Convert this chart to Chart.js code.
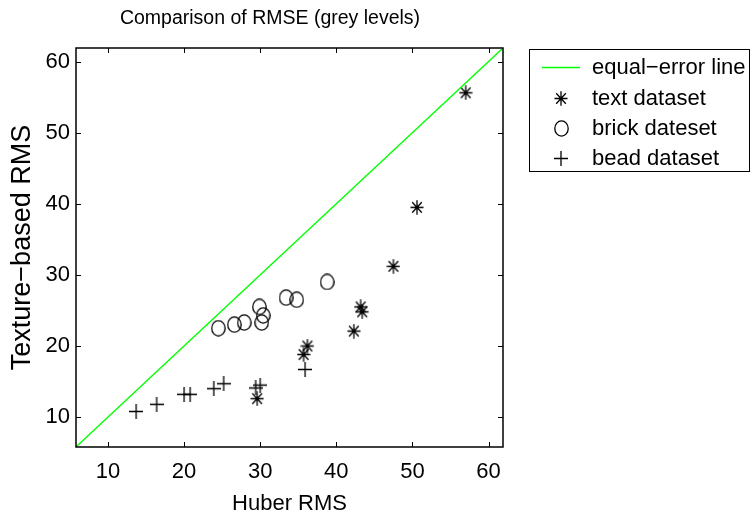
<!DOCTYPE html>
<html><head><meta charset="utf-8">
<script src="https://cdn.jsdelivr.net/npm/chart.js@4/dist/chart.umd.min.js"></script>
<style>html,body{margin:0;padding:0;background:#fff;}#wrap{width:751px;height:517px;}</style>
</head><body><div id="wrap"><canvas id="c" width="751" height="517"></canvas></div>
<script>
// ---- data ----
const chartTitle = 'Comparison of RMSE (grey levels)';
const xTitle = 'Huber RMS';
const yTitle = 'Texture\u2212based RMS';
const axisMin = 5.8;
const axisMax = 61.9;
const tickValues = [10, 20, 30, 40, 50, 60];
const tickLabels = ['10', '20', '30', '40', '50', '60'];
const seriesNames = ['equal\u2212error line', 'text dataset', 'brick dateset', 'bead dataset'];
const lineX = [5.8, 61.9];
const lineY = [5.8, 61.9];
const textX = [57.0, 50.6, 47.5, 43.2, 43.4, 42.3, 36.2, 35.7, 29.6];
const textY = [55.6, 39.5, 31.2, 25.5, 24.8, 22.1, 20.0, 18.8, 12.6];
const brickX = [24.5, 26.6, 27.9, 29.9, 30.4, 30.2, 33.4, 34.8, 38.8];
const brickY = [22.5, 23.0, 23.3, 25.5, 24.3, 23.3, 26.8, 26.5, 29.0];
const beadX = [13.7, 16.4, 20.0, 20.8, 23.9, 25.2, 29.4, 30.0, 35.9];
const beadY = [10.8, 11.8, 13.2, 13.2, 14.0, 14.7, 14.1, 14.5, 16.7];

const FONT = '"Liberation Sans", Arial, Helvetica, sans-serif';
const pts = (xs, ys) => xs.map((x, i) => ({x: x, y: ys[i]}));

function marker(kind) {
  const w = kind === 'circle' ? 15 : 14, h = kind === 'circle' ? 17 : 15;
  const c = document.createElement('canvas');
  c.width = w; c.height = h;
  const g = c.getContext('2d');
  g.strokeStyle = '#000'; g.lineWidth = 1.3;
  const cx = w / 2, cy = h / 2;
  g.beginPath();
  if (kind === 'circle') {
    g.ellipse(cx, cy, cx - 0.8, cy - 0.8, 0, 0, Math.PI * 2);
  } else if (kind === 'plus') {
    g.moveTo(0, cy); g.lineTo(w, cy);
    g.moveTo(cx, 0); g.lineTo(cx, h);
  } else {
    g.moveTo(0.5, cy); g.lineTo(w - 0.5, cy);
    g.moveTo(cx, 0.3); g.lineTo(cx, h - 0.3);
    g.moveTo(cx - 4.8, cy - 5.2); g.lineTo(cx + 4.8, cy + 5.2);
    g.moveTo(cx - 4.8, cy + 5.2); g.lineTo(cx + 4.8, cy - 5.2);
  }
  g.stroke();
  return c;
}
const mStar = marker('star'), mCircle = marker('circle'), mPlus = marker('plus');

const framePlugin = {
  id: 'frame',
  afterDraw(chart) {
    const ctx = chart.ctx, a = chart.chartArea;
    const xs = chart.scales.x, ys = chart.scales.y;
    ctx.save();
    ctx.strokeStyle = '#000';
    ctx.lineWidth = 1.5;
    ctx.strokeRect(a.left, a.top, a.right - a.left, a.bottom - a.top);
    ctx.lineWidth = 1;
    ctx.beginPath();
    const tl = 5;
    tickValues.forEach(v => {
      const px = Math.round(xs.getPixelForValue(v)) + 0.5;
      ctx.moveTo(px, a.bottom); ctx.lineTo(px, a.bottom - tl);
      ctx.moveTo(px, a.top); ctx.lineTo(px, a.top + tl);
      const py = Math.round(ys.getPixelForValue(v)) + 0.5;
      ctx.moveTo(a.left, py); ctx.lineTo(a.left + tl, py);
      ctx.moveTo(a.right, py); ctx.lineTo(a.right - tl, py);
    });
    ctx.stroke();
    // title
    ctx.fillStyle = '#000';
    ctx.font = '19.5px ' + FONT;
    ctx.textAlign = 'center';
    ctx.textBaseline = 'middle';
    ctx.fillText(chartTitle, 270, 19);
    // legend
    const L = 529.5, T = 49.5, R = 749.5, B = 171.5;
    ctx.lineWidth = 1;
    ctx.strokeStyle = '#000';
    ctx.strokeRect(L, T, R - L, B - T);
    const rows = [67, 98, 128, 158];
    ctx.font = '22px ' + FONT;
    ctx.textAlign = 'left';
    rows.forEach((ry, i) => {
      if (i === 0) {
        ctx.strokeStyle = '#00ff00'; ctx.lineWidth = 1.3;
        ctx.beginPath(); ctx.moveTo(542, ry + 0.5); ctx.lineTo(580, ry + 0.5); ctx.stroke();
      } else {
        const m = [null, mStar, mCircle, mPlus][i];
        ctx.drawImage(m, Math.round(561 - m.width / 2), Math.round(ry - m.height / 2));
      }
      ctx.fillStyle = '#000';
      ctx.fillText(seriesNames[i], 592, ry + 1);
    });
    ctx.restore();
  }
};

new Chart(document.getElementById('c'), {
  type: 'scatter',
  data: {
    datasets: [
      {label: seriesNames[0], data: pts(lineX, lineY), showLine: true, borderColor: '#00ff00', borderWidth: 1.3, pointRadius: 0, fill: false},
      {label: seriesNames[1], data: pts(textX, textY), pointStyle: mStar, showLine: false},
      {label: seriesNames[2], data: pts(brickX, brickY), pointStyle: mCircle, showLine: false},
      {label: seriesNames[3], data: pts(beadX, beadY), pointStyle: mPlus, showLine: false}
    ]
  },
  options: {
    responsive: false,
    animation: false,
    events: [],
    layout: {padding: {left: 0, top: 48, right: 248, bottom: 0}},
    plugins: {legend: {display: false}, title: {display: false}, tooltip: {enabled: false}},
    scales: {
      x: {
        type: 'linear', position: 'bottom', min: axisMin, max: axisMax,
        grid: {display: false, drawTicks: false}, border: {display: false},
        afterBuildTicks: s => { s.ticks = tickValues.map(v => ({value: v})); },
        afterFit: s => { s.height = 70; },
        ticks: {autoSkip: false, includeBounds: false, maxRotation: 0, padding: 12, color: '#000',
          font: {family: FONT, size: 22},
          callback: v => tickLabels[tickValues.indexOf(v)]},
        title: {display: true, text: xTitle, color: '#000', font: {family: FONT, size: 22}, padding: {top: 0, bottom: 0}}
      },
      y: {
        type: 'linear', position: 'left', min: axisMin, max: axisMax,
        grid: {display: false, drawTicks: false}, border: {display: false},
        afterBuildTicks: s => { s.ticks = tickValues.map(v => ({value: v})); },
        afterFit: s => { s.width = 76; },
        ticks: {autoSkip: false, includeBounds: false, padding: 6, color: '#000',
          font: {family: FONT, size: 22},
          callback: v => tickLabels[tickValues.indexOf(v)]},
        title: {display: true, text: yTitle, color: '#000', font: {family: FONT, size: 27}, padding: {top: 6, bottom: 0}}
      }
    }
  },
  plugins: [framePlugin]
});
</script>
</body></html>
